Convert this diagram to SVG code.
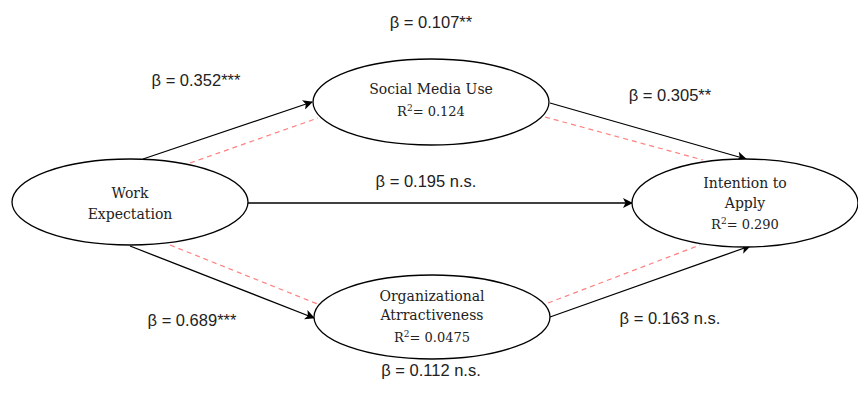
<svg xmlns="http://www.w3.org/2000/svg" width="858" height="407" viewBox="0 0 858 407">
<defs>
<marker id="arr" viewBox="0 0 10 10" refX="9" refY="5" markerWidth="10" markerHeight="10" markerUnits="userSpaceOnUse" orient="auto">
<path d="M0,0 L10,5 L0,10 L2.5,5 Z" fill="#000"/>
</marker>
<style>
.node{fill:#fff;stroke:#000;stroke-width:1.3}
.nt{font-family:"DejaVu Serif","Liberation Serif",serif;font-size:14px;fill:#222;text-anchor:middle}
.r2{font-size:13px}
.edge{fill:none;stroke:#000;stroke-width:1.3}
.dash{fill:none;stroke:#ff8080;stroke-width:1.2;stroke-dasharray:5,4}
.lbl{font-family:"Liberation Sans",Arial,sans-serif;font-size:16.5px;fill:#222;text-anchor:middle}
</style>
</defs>
<rect width="858" height="407" fill="#fff"/>
<g id="connectors">
<path class="dash" d="M190,163 L318,118"/>
<path class="dash" d="M545,117 L703,160"/>
<path class="dash" d="M170,245 L320,305"/>
<path class="dash" d="M548,303 L700,245"/>
<path class="edge" d="M143,159 L312,102" marker-end="url(#arr)"/>
<path class="edge" d="M550,103 L746,159" marker-end="url(#arr)"/>
<path class="edge" d="M248,203 L632,203" marker-end="url(#arr)"/>
<path class="edge" d="M130,246 L314,318" marker-end="url(#arr)"/>
<path class="edge" d="M550,317 L750,246" marker-end="url(#arr)"/>
</g>
<g id="labels">
<text class="lbl" x="431" y="28">β = 0.107**</text>
<text class="lbl" x="196" y="86">β = 0.352***</text>
<text class="lbl" x="670" y="101">β = 0.305**</text>
<text class="lbl" x="426" y="187">β = 0.195 n.s.</text>
<text class="lbl" x="192" y="326">β = 0.689***</text>
<text class="lbl" x="670" y="324">β = 0.163 n.s.</text>
<text class="lbl" x="431" y="376">β = 0.112 n.s.</text>
</g>
<g id="work-expectation">
<ellipse class="node" cx="130" cy="202" rx="118" ry="43"/>
<text class="nt" x="130" y="198">Work</text>
<text class="nt" x="130" y="219">Expectation</text>
</g>
<g id="social-media-use">
<ellipse class="node" cx="431" cy="102" rx="118" ry="43"/>
<text class="nt" x="431" y="94">Social Media Use</text>
<text class="nt r2" x="431" y="116">R<tspan font-size="9" dy="-5">2</tspan><tspan dy="5">= 0.124</tspan></text>
</g>
<g id="organizational-attractiveness">
<ellipse class="node" cx="432" cy="317" rx="118" ry="42"/>
<text class="nt" x="432" y="301">Organizational</text>
<text class="nt" x="432" y="320">Atrractiveness</text>
<text class="nt r2" x="432" y="342">R<tspan font-size="9" dy="-5">2</tspan><tspan dy="5">= 0.0475</tspan></text>
</g>
<g id="intention-to-apply">
<ellipse class="node" cx="745" cy="203" rx="113" ry="44"/>
<text class="nt" x="745" y="188">Intention to</text>
<text class="nt" x="745" y="208">Apply</text>
<text class="nt r2" x="745" y="229">R<tspan font-size="9" dy="-5">2</tspan><tspan dy="5">= 0.290</tspan></text>
</g>
</svg>
